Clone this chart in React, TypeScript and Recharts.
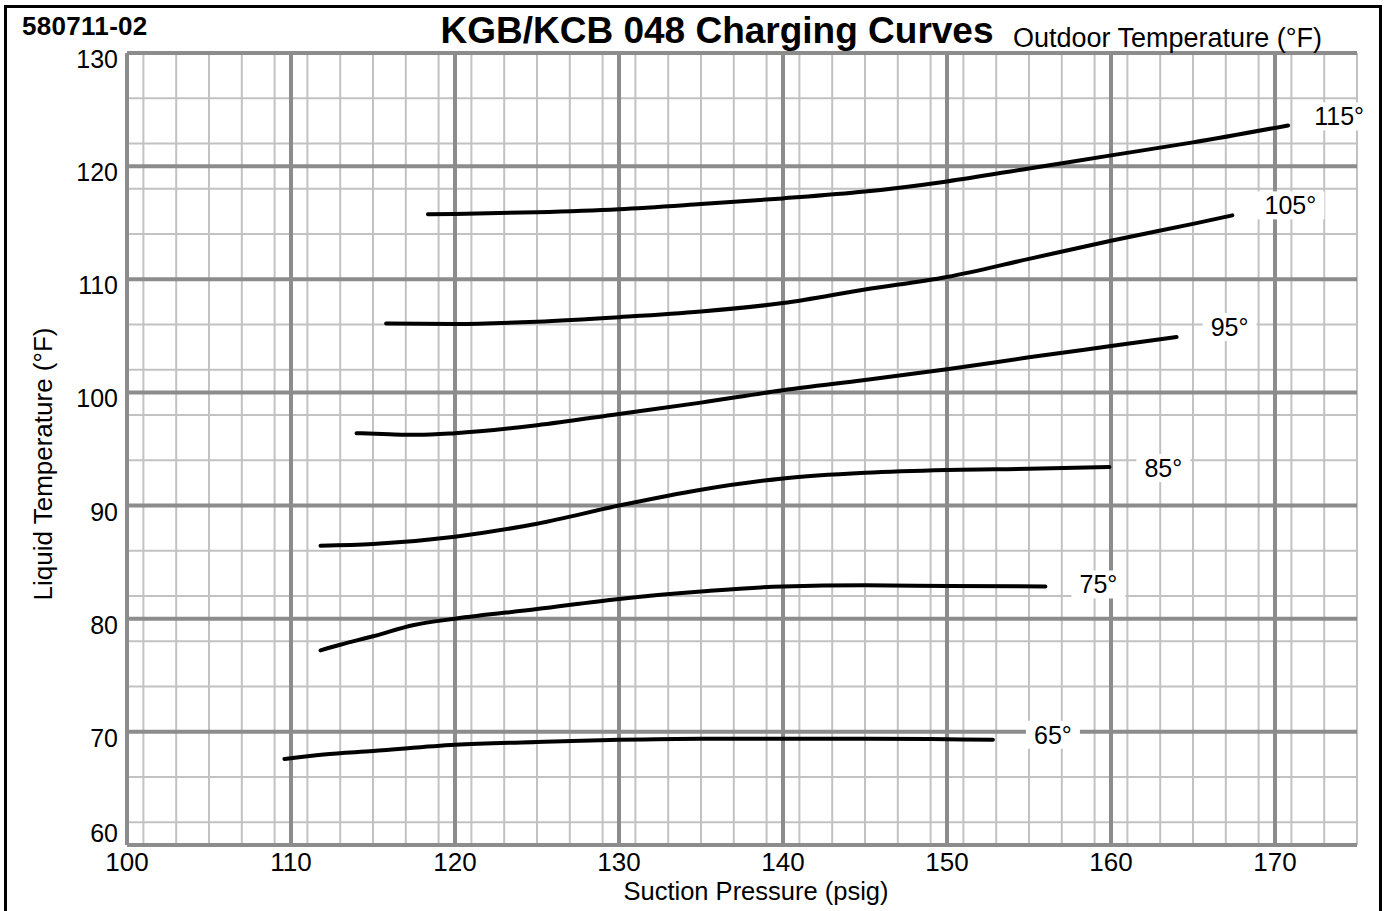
import { LineChart, Line, XAxis, YAxis, CartesianGrid, LabelList } from 'recharts'

const FONT = '"Liberation Sans", Arial, Helvetica, sans-serif'

const xTicks = [100, 110, 120, 130, 140, 150, 160, 170]
const yTicks = [60, 70, 80, 90, 100, 110, 120, 130]

// suction pressure (psig) -> liquid temperature (F), one list per outdoor temperature
const curve65 = [
  { p: 109.6, t: 67.6 }, { p: 112, t: 68.0 }, { p: 115, t: 68.3 }, { p: 120, t: 68.85 },
  { p: 125, t: 69.1 }, { p: 130, t: 69.3 }, { p: 135, t: 69.4 }, { p: 140, t: 69.4 },
  { p: 145, t: 69.4 }, { p: 150, t: 69.35 }, { p: 152.8, t: 69.3 },
]
const curve75 = [
  { p: 111.8, t: 77.2 }, { p: 113, t: 77.7 }, { p: 115, t: 78.45 }, { p: 117.5, t: 79.45 },
  { p: 120, t: 80.0 }, { p: 125, t: 80.85 }, { p: 130, t: 81.75 }, { p: 135, t: 82.4 },
  { p: 140, t: 82.85 }, { p: 145, t: 82.95 }, { p: 150, t: 82.9 }, { p: 156, t: 82.85 },
]
const curve85 = [
  { p: 111.8, t: 86.45 }, { p: 115, t: 86.6 }, { p: 120, t: 87.25 }, { p: 125, t: 88.4 },
  { p: 130, t: 90.0 }, { p: 135, t: 91.4 }, { p: 140, t: 92.4 }, { p: 145, t: 92.9 },
  { p: 150, t: 93.15 }, { p: 155, t: 93.25 }, { p: 159.9, t: 93.4 },
]
const curve95 = [
  { p: 114, t: 96.4 }, { p: 116, t: 96.3 }, { p: 117.7, t: 96.25 }, { p: 120, t: 96.4 },
  { p: 125, t: 97.1 }, { p: 130, t: 98.1 }, { p: 135, t: 99.1 }, { p: 140, t: 100.2 },
  { p: 145, t: 101.1 }, { p: 150, t: 102.05 }, { p: 155, t: 103.1 }, { p: 160, t: 104.1 },
  { p: 164, t: 104.9 },
]
const curve105 = [
  { p: 115.8, t: 106.1 }, { p: 120, t: 106.05 }, { p: 125, t: 106.25 }, { p: 130, t: 106.65 },
  { p: 135, t: 107.15 }, { p: 140, t: 107.9 }, { p: 145, t: 109.1 }, { p: 150, t: 110.2 },
  { p: 155, t: 111.8 }, { p: 160, t: 113.4 }, { p: 165, t: 114.9 }, { p: 167.4, t: 115.65 },
]
const curve115 = [
  { p: 118.35, t: 115.75 }, { p: 120, t: 115.78 }, { p: 125, t: 115.93 }, { p: 130, t: 116.2 },
  { p: 135, t: 116.65 }, { p: 140, t: 117.15 }, { p: 145, t: 117.75 }, { p: 150, t: 118.65 },
  { p: 155, t: 119.8 }, { p: 160, t: 120.95 }, { p: 165, t: 122.1 }, { p: 170.8, t: 123.6 },
]

const curveNames = ['65°', '75°', '85°', '95°', '105°', '115°']
const curveData = [curve65, curve75, curve85, curve95, curve105, curve115]

// where each end label sits relative to the end of its curve (px)
const labelOffsets = [
  [60, -5], [53, -2], [54, 1], [53, -10], [58, -10], [51, -9],
]

const minorX = Array.from({ length: 76 }, (_, i) => 100 + i)
const minorY = Array.from({ length: 36 }, (_, i) => 60 + i * 2)

function endLabel(text: string, last: number, dx: number, dy: number) {
  return (props: any) => {
    if (props.index !== last) return null
    const x0 = props.x ?? props.viewBox?.x
    const y0 = props.y ?? props.viewBox?.y
    if (x0 == null || y0 == null) return null
    const cx = x0 + dx
    const cy = y0 + dy
    const w = text.length * 14 + 12
    return (
      <g>
        <rect x={cx - w / 2} y={cy - 14} width={w} height={28} fill="#fff" />
        <text
          x={cx}
          y={cy}
          textAnchor="middle"
          dominantBaseline="central"
          fontSize={25}
          fontFamily={FONT}
          fill="#000"
        >
          {text}
        </text>
      </g>
    )
  }
}

const XTick = (props: any) => (
  <text
    x={props.x}
    y={props.y + 8}
    dy="0.71em"
    textAnchor="middle"
    fontSize={26}
    fontFamily={FONT}
    fill="#000"
  >
    {props.payload.value}
  </text>
)

// the bottom label (60) is lifted above its line so it clears the x labels
const YTick = (props: any) => (
  <text
    x={props.x}
    y={props.y + (props.payload.value === 60 ? -12 : 6)}
    textAnchor="end"
    dominantBaseline="central"
    fontSize={25}
    fontFamily={FONT}
    fill="#000"
  >
    {props.payload.value}
  </text>
)

export default function App() {
  return (
    <div
      style={{
        position: 'absolute',
        left: 0,
        top: 0,
        width: 1389,
        height: 911,
        background: '#fff',
        overflow: 'hidden',
      }}
    >
      <LineChart
        width={1389}
        height={911}
        margin={{ top: 53, right: 32, bottom: 0, left: 0 }}
      >
        <CartesianGrid
          stroke="#c2c2c2"
          strokeWidth={2}
          verticalValues={minorX}
          horizontalValues={minorY}
        />
        <CartesianGrid
          stroke="#8c8c8c"
          strokeWidth={4}
          verticalValues={xTicks}
          horizontalValues={yTicks}
        />
        <XAxis
          type="number"
          dataKey="p"
          domain={[100, 175]}
          ticks={xTicks}
          allowDataOverflow
          height={66}
          axisLine={false}
          tickLine={false}
          tickSize={0}
          tickMargin={0}
          tick={XTick}
        />
        <YAxis
          type="number"
          dataKey="t"
          domain={[60, 130]}
          ticks={yTicks}
          allowDataOverflow
          width={127}
          axisLine={false}
          tickLine={false}
          tickSize={0}
          tickMargin={9}
          tick={YTick}
        />
        {curveData.map((d, i) => (
          <Line
            key={curveNames[i]}
            data={d}
            dataKey="t"
            type="monotone"
            stroke="#000"
            strokeWidth={4}
            strokeLinecap="round"
            dot={false}
            activeDot={false}
            isAnimationActive={false}
          >
            <LabelList
              dataKey="t"
              content={endLabel(curveNames[i], d.length - 1, labelOffsets[i][0], labelOffsets[i][1])}
            />
          </Line>
        ))}
      </LineChart>
      <svg
        width={1389}
        height={911}
        style={{ position: 'absolute', left: 0, top: 0, pointerEvents: 'none' }}
      >
        <rect x={5.5} y={6.5} width={1375} height={920} fill="none" stroke="#000" strokeWidth={3} />
        <text x={22} y={35} fontSize={26} fontWeight="bold" fontFamily={FONT} letterSpacing={0.3}>
          580711-02
        </text>
        <text x={717} y={43} textAnchor="middle" fontSize={37} fontWeight="bold" fontFamily={FONT}>
          KGB/KCB 048 Charging Curves
        </text>
        <text x={1013} y={47} fontSize={27} fontFamily={FONT}>
          Outdoor Temperature (°F)
        </text>
        <text x={756} y={900} textAnchor="middle" fontSize={25.5} fontFamily={FONT}>
          Suction Pressure (psig)
        </text>
        <text
          x={52}
          y={464}
          textAnchor="middle"
          fontSize={26}
          fontFamily={FONT}
          transform="rotate(-90 52 464)"
        >
          Liquid Temperature (°F)
        </text>
      </svg>
    </div>
  )
}
